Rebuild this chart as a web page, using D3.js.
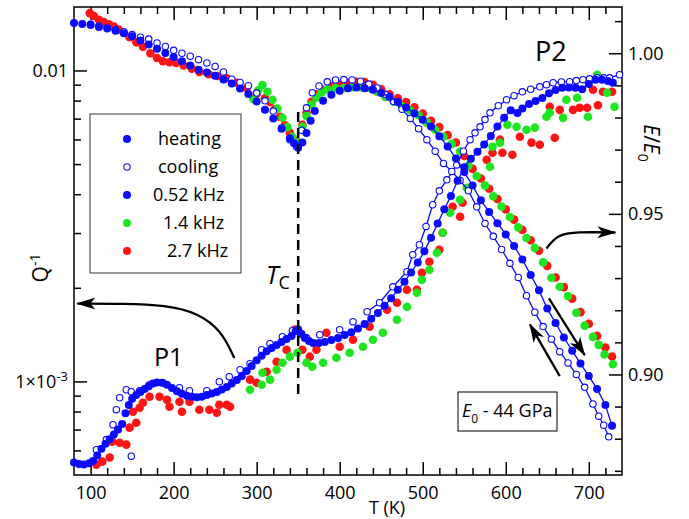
<!DOCTYPE html>
<html>
<head>
<meta charset="utf-8">
<script src="https://cdn.jsdelivr.net/npm/d3@7/dist/d3.min.js"></script>
<style>
    body { margin: 0; background: #fff; }
    svg text { font-family: "Open Sans", sans-serif; fill: #000; }
</style>
</head>
<body>
<div id="chart"></div>
<script>
/*
 * Internal friction Q^-1 (left log axis), rows are [T (K), Q^-1].
 */
var qHeating = [
    [80,5.48e-4],[86,5.42e-4],[92,5.40e-4],[98,5.45e-4],[103,5.55e-4],[108,5.78e-4],[113,6.07e-4],
    [118,6.30e-4],[123,6.52e-4],[128,6.75e-4],[133,7.00e-4],[138,7.30e-4],[142,7.90e-4],[146,8.40e-4],
    [150,8.80e-4],[155,9.05e-4],[160,9.25e-4],[165,9.45e-4],[170,9.65e-4],[175,9.85e-4],[180,9.92e-4],
    [186,9.90e-4],[192,9.75e-4],[198,9.52e-4],[204,9.30e-4],[210,9.12e-4],[216,9.00e-4],[222,8.92e-4],
    [228,8.90e-4],[234,8.93e-4],[240,9.05e-4],[246,9.15e-4],[252,9.25e-4],[258,9.42e-4],[264,9.60e-4],
    [270,9.85e-4],[276,1.01e-3],[282,1.04e-3],[288,1.08e-3],[294,1.12e-3],[300,1.17e-3],[306,1.21e-3],
    [312,1.25e-3],[318,1.28e-3],[324,1.31e-3],[330,1.34e-3],[336,1.37e-3],[342,1.40e-3],[347,1.45e-3],
    [350,1.47e-3],[354,1.42e-3],[358,1.38e-3],[363,1.35e-3],[368,1.33e-3],[375,1.33e-3],[382,1.34e-3],
    [390,1.36e-3],[398,1.38e-3],[406,1.41e-3],[414,1.44e-3],[422,1.48e-3],[430,1.53e-3],[438,1.59e-3],
    [446,1.66e-3],[454,1.75e-3],[462,1.85e-3],[470,1.97e-3],[478,2.09e-3],[486,2.24e-3],[494,2.41e-3],
    [502,2.62e-3],[510,2.90e-3],[518,3.22e-3],[526,3.58e-3],[534,3.95e-3],[542,4.42e-3],[550,4.88e-3],
    [558,5.20e-3],[566,5.48e-3],[574,5.78e-3],[582,6.15e-3],[590,6.60e-3],[598,7.05e-3],[606,7.45e-3],
    [614,7.30e-3],[620,7.55e-3],[628,7.80e-3],[636,7.98e-3],[644,8.15e-3],[652,8.45e-3],[660,8.65e-3],
    [668,8.80e-3],[676,8.82e-3],[684,8.80e-3],[692,8.70e-3],[700,9.05e-3],[708,9.34e-3],[716,9.34e-3],
    [723,9.25e-3],[729,9.13e-3]
];
var qCooling = [
    [107,6.03e-4],[119,6.50e-4],[127,7.26e-4],[131,8.11e-4],[133,7.00e-4],[135,8.86e-4],[143,9.40e-4],
    [149,5.75e-4],[149,9.27e-4],[159,9.33e-4],[171,9.76e-4],[187,9.90e-4],[207,9.54e-4],[219,9.33e-4],
    [240,9.33e-4],[255,9.98e-4],[267,1.035e-3],[280,1.09e-3],[292,1.14e-3],[306,1.264e-3],[316,1.322e-3],
    [331,1.392e-3],[343,1.456e-3],[352,1.434e-3],[360,1.382e-3],[376,1.413e-3],[400,1.467e-3],
    [416,1.556e-3],[433,1.675e-3],[448,1.791e-3],[464,2.015e-3],[481,2.253e-3],[488,2.555e-3],
    [496,2.751e-3],[504,3.15e-3],[512,3.70e-3],[520,4.10e-3],[529,4.45e-3],[541,4.97e-3],[549,5.50e-3],
    [557,5.99e-3],[563,6.30e-3],[569,6.59e-3],[575,6.95e-3],[581,7.31e-3],[591,7.70e-3],[601,8.05e-3],
    [610,8.30e-3],[620,8.54e-3],[630,8.70e-3],[641,8.86e-3],[649,9.00e-3],[657,9.13e-3],[667,9.18e-3],
    [677,9.20e-3],[685,9.28e-3],[693,9.34e-3],[701,9.40e-3],[710,9.47e-3],[718,9.47e-3],[725,9.47e-3],
    [737,9.69e-3]
];
var q14kHz = [
    [292,9.40e-4],[306,9.76e-4],[307,1.066e-3],[316,1.013e-3],[324,1.09e-3],[331,1.148e-3],[340,1.201e-3],
    [349,1.237e-3],[360,1.148e-3],[367,1.115e-3],[380,1.148e-3],[396,1.192e-3],[412,1.237e-3],
    [428,1.293e-3],[440,1.362e-3],[452,1.434e-3],[469,1.579e-3],[481,1.739e-3],[493,1.929e-3],
    [499,2.123e-3],[508,2.287e-3],[517,2.594e-3],[524,3.007e-3],[533,3.486e-3],[545,3.838e-3],
    [553,4.196e-3],[581,4.904e-3],[584,5.687e-3],[593,5.856e-3],[602,6.69e-3],[613,6.59e-3],
    [625,6.447e-3],[635,6.55e-3],[649,7.096e-3],[653,7.31e-3],[669,7.04e-3],[673,8.05e-3],[686,8.17e-3],
    [699,7.10e-3],[710,9.69e-3],[722,8.48e-3],[731,7.64e-3]
];
var q27kHz = [
    [107,5.40e-4],[114,5.52e-4],[123,5.69e-4],[126,6.40e-4],[135,6.35e-4],[143,6.26e-4],[147,7.10e-4],
    [151,7.99e-4],[155,7.36e-4],[159,8.23e-4],[163,8.54e-4],[171,8.93e-4],[183,8.93e-4],[192,8.73e-4],
    [195,8.29e-4],[207,8.60e-4],[210,7.99e-4],[219,8.60e-4],[231,8.11e-4],[243,8.11e-4],[252,7.93e-4],
    [255,8.41e-4],[264,8.41e-4],[268,8.29e-4],[292,1.013e-3],[300,9.90e-4],[312,1.074e-3],[324,1.157e-3],
    [336,1.264e-3],[346,1.467e-3],[355,1.264e-3],[364,1.201e-3],[372,1.264e-3],[384,1.434e-3],
    [400,1.293e-3],[416,1.362e-3],[436,1.499e-3],[457,1.700e-3],[469,1.791e-3],[481,1.971e-3],
    [493,1.971e-3],[499,2.237e-3],[508,2.426e-3],[520,2.652e-3],[524,3.007e-3],[536,3.645e-3],
    [545,3.385e-3],[548,3.755e-3],[577,5.163e-3],[584,5.44e-3],[593,5.99e-3],[596,5.44e-3],[608,5.357e-3],
    [617,6.12e-3],[631,5.86e-3],[641,5.77e-3],[653,7.64e-3],[659,6.075e-3],[665,7.47e-3],[681,7.47e-3],
    [689,7.587e-3],[698,7.587e-3],[705,8.67e-3],[711,7.73e-3],[717,8.54e-3],[728,8.54e-3]
];
/*
 * Young's modulus E/E0 (right axis), rows are [T (K), E/E0].
 */
var eHeating = [
    [80,1.0094],[90,1.0091],[100,1.0088],[110,1.0082],[120,1.0077],[130,1.0070],[140,1.0062],[150,1.0053],
    [160,1.0040],[170,1.0027],[180,1.0014],[190,1.0001],[200,0.9988],[210,0.9975],[220,0.9962],[230,0.9949],
    [240,0.9940],[250,0.9930],[260,0.9918],[270,0.9906],[280,0.9890],[290,0.9873],[300,0.9850],[310,0.9824],
    [320,0.9797],[330,0.9765],[340,0.9735],[345,0.9720],[350,0.9706],[355,0.9722],[360,0.9752],[365,0.9790],
    [370,0.9820],[380,0.9852],[390,0.9871],[400,0.9883],[410,0.9891],[420,0.9893],[430,0.9891],[440,0.9886],
    [450,0.9876],[460,0.9864],[470,0.9848],[480,0.9831],[490,0.9813],[500,0.9793],[510,0.9772],[520,0.9742],
    [530,0.9710],[540,0.9672],[550,0.9630],[560,0.9588],[570,0.9542],[580,0.9506],[590,0.9471],[600,0.9436],
    [610,0.9400],[620,0.9358],[630,0.9310],[640,0.9262],[650,0.9205],[660,0.9160],[670,0.9115],[680,0.9074],
    [690,0.9034],[700,0.8995],[710,0.8955],[720,0.8905],[728,0.8840]
];
var eCooling = [
    [100,1.0091],[110,1.0085],[120,1.0079],[130,1.0073],[140,1.0067],[150,1.0058],[160,1.0050],[170,1.0044],
    [180,1.0032],[190,1.0021],[200,1.0009],[210,1.0000],[220,0.9991],[230,0.9980],[240,0.9970],[250,0.9959],
    [260,0.9942],[270,0.9919],[280,0.9909],[290,0.9899],[300,0.9876],[310,0.9852],[320,0.9820],[330,0.9767],
    [340,0.9731],[348,0.9709],[354,0.9760],[360,0.9830],[367,0.9877],[375,0.9898],[385,0.9911],[395,0.9917],
    [405,0.9918],[415,0.9917],[425,0.9913],[435,0.9904],[445,0.9892],[455,0.9872],[465,0.9850],[475,0.9826],
    [485,0.9797],[495,0.9765],[505,0.9731],[515,0.9695],[525,0.9657],[535,0.9632],[545,0.9604],[555,0.9572],
    [565,0.9522],[575,0.9470],[585,0.9430],[595,0.9389],[605,0.9346],[615,0.9302],[625,0.9245],[635,0.9194],
    [645,0.9149],[655,0.9110],[665,0.9071],[675,0.9036],[685,0.9000],[695,0.8960],[705,0.8908],[712,0.8870],
    [718,0.8842],[724,0.8806]
];
var e14kHz = [
    [296,0.9858],[302,0.9885],[307,0.9901],[313,0.9880],[319,0.9855],[325,0.9828],[331,0.9799],[337,0.9770],
    [343,0.9740],[349,0.9721],[355,0.9771],[360,0.9805],[366,0.9840],[372,0.9862],[378,0.9878],[385,0.9888],
    [395,0.9892],[405,0.9892],[415,0.9894],[425,0.9894],[435,0.9892],[445,0.9880],[455,0.9864],[465,0.9849],
    [475,0.9835],[485,0.9822],[495,0.9807],[505,0.9784],[515,0.9762],[525,0.9740],[535,0.9718],[545,0.9694],
    [555,0.9650],[565,0.9618],[575,0.9588],[585,0.9555],[595,0.9523],[605,0.9490],[615,0.9458],[625,0.9425],
    [635,0.9394],[645,0.9349],[655,0.9301],[665,0.9273],[675,0.9244],[685,0.9192],[695,0.9152],[705,0.9117],
    [712,0.9092],[719,0.9062],[729,0.9032]
];
var e27kHz = [
    [99,1.0125],[104,1.0116],[110,1.0104],[116,1.0097],[122,1.0090],[128,1.0083],[134,1.0074],[140,1.0064],
    [147,1.0050],[155,1.0034],[163,1.0020],[172,1.0000],[180,0.9985],[187,0.9975],[195,0.9972],[203,0.9970],
    [212,0.9962],[222,0.9952],[231,0.9942],[242,0.9935],[253,0.9929],[264,0.9922],[276,0.9908],[288,0.9892],
    [300,0.9874],[310,0.9860],[316,0.9848],[322,0.9826],[328,0.9802],[334,0.9776],[340,0.9752],[346,0.9728],
    [350,0.9722],[355,0.9777],[360,0.9815],[366,0.9849],[372,0.9872],[380,0.9886],[390,0.9897],[400,0.9903],
    [410,0.9908],[420,0.9911],[430,0.9910],[440,0.9902],[450,0.9888],[460,0.9872],[470,0.9860],[480,0.9848],
    [490,0.9832],[500,0.9812],[510,0.9790],[520,0.9770],[530,0.9745],[540,0.9722],[550,0.9680],[560,0.9640],
    [570,0.9610],[580,0.9578],[590,0.9546],[600,0.9514],[610,0.9482],[620,0.9450],[630,0.9418],[640,0.9385],
    [650,0.9338],[660,0.9302],[670,0.9272],[680,0.9236],[690,0.9194],[700,0.9158],[710,0.9120],[720,0.9084],
    [728,0.9056]
];
/*
 * Axis ticks and legend.
 */
var xTicks = [100, 200, 300, 400, 500, 600, 700];
var qTicks = [1e-3, 1e-2];
var eTicks = [0.90, 0.95, 1.00];
var legendLabels = ['heating', 'cooling', '0.52 kHz', '1.4 kHz', '2.7 kHz'];

var width = 689, height = 519;
var plot = { left: 74, right: 622, top: 7, bottom: 475 };
var blue = '#0a0aff', green = '#1ee61e', red = '#ff1414';
var lineFromT = 420;

var svg = d3.select('#chart').append('svg')
    .attr('width', width)
    .attr('height', height);

var x = d3.scaleLinear().domain([80, 740]).range([plot.left, plot.right]);
var yQ = d3.scaleLog().domain([5.0e-4, 0.016]).range([plot.bottom, plot.top]);
var yE = d3.scaleLinear().domain([0.8687, 1.0144]).range([plot.bottom, plot.top]);

/*
 * Arrow head.
 */
svg.append('defs').append('marker')
    .attr('id', 'head')
    .attr('viewBox', '-20 -8 22 16')
    .attr('refX', 0).attr('refY', 0)
    .attr('markerWidth', 22).attr('markerHeight', 16)
    .attr('markerUnits', 'userSpaceOnUse')
    .attr('orient', 'auto')
    .append('path')
    .attr('d', 'M1,0 L-18,-6 L-13,0 L-18,6 Z')
    .attr('fill', '#000');

/*
 * Axes: ticks point inside on all four sides.
 */
function styleAxis(g) {
    g.select('.domain').remove();
    g.selectAll('line').attr('stroke', '#000').attr('stroke-width', 1.5);
    g.selectAll('text').style('font-size', '18px').attr('fill', '#000');
    return g;
}
var xMinor = d3.range(100, 740, 20).filter(d => d % 100 !== 0);
var qMinor = [6e-4, 7e-4, 8e-4, 9e-4, 2e-3, 3e-3, 4e-3, 5e-3, 6e-3, 7e-3, 8e-3, 9e-3];
var eMinor = d3.range(87, 102).map(d => d / 100).filter(d => eTicks.indexOf(d) < 0);

styleAxis(svg.append('g').attr('transform', 'translate(0,' + plot.bottom + ')')
    .call(d3.axisBottom(x).tickValues(xMinor).tickSize(-7).tickFormat('')));
styleAxis(svg.append('g').attr('transform', 'translate(0,' + plot.bottom + ')')
    .call(d3.axisBottom(x).tickValues(xTicks).tickSize(-13).tickPadding(11).tickFormat(d3.format('d'))));
styleAxis(svg.append('g').attr('transform', 'translate(0,' + plot.top + ')')
    .call(d3.axisTop(x).tickValues(xMinor).tickSize(-7).tickFormat('')));
styleAxis(svg.append('g').attr('transform', 'translate(0,' + plot.top + ')')
    .call(d3.axisTop(x).tickValues(xTicks).tickSize(-13).tickFormat('')));
styleAxis(svg.append('g').attr('transform', 'translate(' + plot.left + ',0)')
    .call(d3.axisLeft(yQ).tickValues(qMinor).tickSize(-7).tickFormat('')));
var leftAxis = styleAxis(svg.append('g').attr('transform', 'translate(' + plot.left + ',0)')
    .call(d3.axisLeft(yQ).tickValues(qTicks).tickSize(-13).tickPadding(6)
        .tickFormat(d => d === 1e-2 ? '0.01' : '1×10')));
leftAxis.selectAll('text').filter(d => d === 1e-3)
    .append('tspan').attr('dy', '-0.55em').style('font-size', '13px').text('-3');
styleAxis(svg.append('g').attr('transform', 'translate(' + plot.right + ',0)')
    .call(d3.axisRight(yE).tickValues(eMinor).tickSize(-7).tickFormat('')));
styleAxis(svg.append('g').attr('transform', 'translate(' + plot.right + ',0)')
    .call(d3.axisRight(yE).tickValues(eTicks).tickSize(-13).tickPadding(6).tickFormat(d3.format('.2f'))));

svg.append('rect')
    .attr('x', plot.left).attr('y', plot.top)
    .attr('width', plot.right - plot.left).attr('height', plot.bottom - plot.top)
    .attr('fill', 'none').attr('stroke', '#000').attr('stroke-width', 1.5);

/*
 * Axis titles.
 */
svg.append('text')
    .attr('x', x(457)).attr('y', 514)
    .attr('text-anchor', 'middle').style('font-size', '18px')
    .text('T (K)');
var qTitle = svg.append('text')
    .attr('transform', 'translate(48,268) rotate(-90)')
    .attr('text-anchor', 'middle').style('font-size', '21px');
qTitle.append('tspan').text('Q');
qTitle.append('tspan').attr('dy', '-0.55em').style('font-size', '14px').text('-1');
var eTitle = svg.append('text')
    .attr('transform', 'translate(644,143) rotate(90)')
    .attr('text-anchor', 'middle').style('font-size', '21px');
eTitle.append('tspan').style('font-style', 'italic').text('E');
eTitle.append('tspan').text('/');
eTitle.append('tspan').style('font-style', 'italic').text('E');
eTitle.append('tspan').attr('dy', '0.4em').style('font-size', '14px').text('0');

/*
 * Data series: draw order red, green, cooling, heating.
 */
var plotArea = svg.append('g');
function drawSeries(data, yScale, color, open, withLine, r) {
    if (withLine) {
        plotArea.append('path')
            .datum(data.filter(d => d[0] >= lineFromT))
            .attr('fill', 'none')
            .attr('stroke', color)
            .attr('stroke-width', 1.3)
            .attr('d', d3.line().x(d => x(d[0])).y(d => yScale(d[1])));
    }
    plotArea.append('g').selectAll('circle')
        .data(data)
        .join('circle')
        .attr('cx', d => x(d[0]))
        .attr('cy', d => yScale(d[1]))
        .attr('r', r)
        .attr('fill', open ? '#fff' : color)
        .attr('stroke', open ? color : 'none')
        .attr('stroke-width', 1.1);
}
drawSeries(q27kHz, yQ, red, false, false, 4.3);
drawSeries(e27kHz, yE, red, false, false, 4.3);
drawSeries(q14kHz, yQ, green, false, false, 4.3);
drawSeries(e14kHz, yE, green, false, false, 4.3);
drawSeries(qCooling, yQ, blue, true, true, 3.2);
drawSeries(eCooling, yE, blue, true, true, 3.2);
drawSeries(qHeating, yQ, blue, false, true, 4);
drawSeries(eHeating, yE, blue, false, true, 4);

/*
 * Curie temperature marker.
 */
svg.append('line')
    .attr('x1', x(350)).attr('x2', x(350))
    .attr('y1', 112).attr('y2', 395)
    .attr('stroke', '#000').attr('stroke-width', 2.5)
    .attr('stroke-dasharray', '10,6');
var tc = svg.append('text')
    .attr('x', 266).attr('y', 284)
    .style('font-size', '25px');
tc.append('tspan').style('font-style', 'italic').text('T');
tc.append('tspan').attr('dy', '5').style('font-size', '18px').text('C');

/*
 * Peak labels and arrows.
 */
svg.append('text').attr('x', 154).attr('y', 366).style('font-size', '25px').text('P1');
svg.append('text').attr('x', 535).attr('y', 61).style('font-size', '27px').text('P2');

var curve = d3.line().curve(d3.curveBasis);
function arrow(points) {
    svg.append('path')
        .attr('d', curve(points))
        .attr('fill', 'none')
        .attr('stroke', '#000')
        .attr('stroke-width', 2.3)
        .attr('marker-end', 'url(#head)');
}
arrow([[x(273), yQ(1.19e-3)], [x(258), yQ(1.45e-3)], [x(230), yQ(1.66e-3)], [x(190), yQ(1.76e-3)], [x(140), yQ(1.78e-3)], [x(84), yQ(1.78e-3)]]);
arrow([[x(649), yE(0.9392)], [x(662), yE(0.9435)], [x(685), yE(0.9444)], [x(732), yE(0.9442)]]);
arrow([[x(652), yE(0.9237)], [x(695), yE(0.9060)]]);
arrow([[x(665), yE(0.8995)], [x(629), yE(0.9156)]]);

/*
 * Modulus reference box.
 */
svg.append('rect')
    .attr('x', 458).attr('y', 392).attr('width', 99).attr('height', 39)
    .attr('fill', '#fff').attr('stroke', '#000').attr('stroke-width', 1);
var e0 = svg.append('text').attr('x', 462).attr('y', 417).style('font-size', '18px');
e0.append('tspan').style('font-style', 'italic').text('E');
e0.append('tspan').attr('dy', '6').style('font-size', '12px').text('0');
e0.append('tspan').attr('dy', '-6').text(' - 44 GPa');

/*
 * Legend.
 */
var legendStyles = [
    { color: blue, open: false, r: 4, dx: 158 },
    { color: blue, open: true, r: 3.2, dx: 158 },
    { color: blue, open: false, r: 4, dx: 153 },
    { color: green, open: false, r: 4, dx: 163 },
    { color: red, open: false, r: 4, dx: 167 }
];
var legend = svg.append('g');
legend.append('rect')
    .attr('x', 90).attr('y', 114).attr('width', 151).attr('height', 159)
    .attr('fill', '#fff').attr('stroke', '#333').attr('stroke-width', 1);
legendLabels.forEach(function(label, i) {
    var s = legendStyles[i];
    var cy = 139 + i * 28;
    legend.append('circle')
        .attr('cx', 127).attr('cy', cy).attr('r', s.r)
        .attr('fill', s.open ? '#fff' : s.color)
        .attr('stroke', s.open ? s.color : 'none')
        .attr('stroke-width', 1.1);
    legend.append('text')
        .attr('x', s.dx).attr('y', cy).attr('dy', '0.35em')
        .style('font-size', '18px')
        .text(label);
});
</script>
</body>
</html>
